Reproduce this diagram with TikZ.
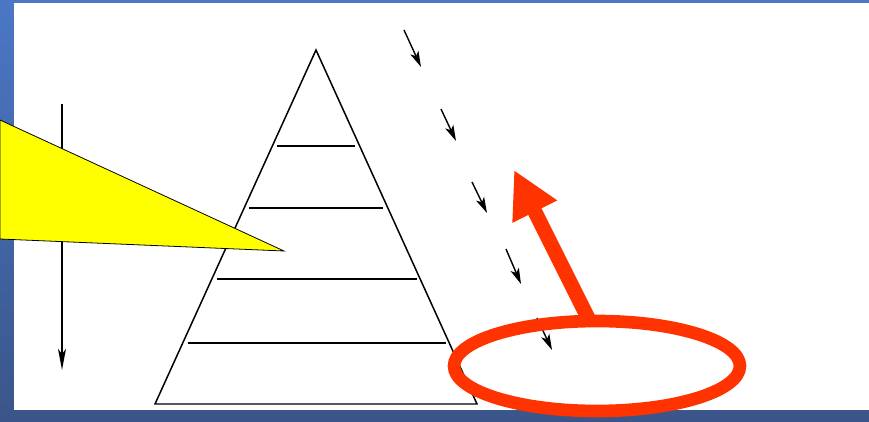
\documentclass[tikz,border=0pt]{standalone}
\usepackage{tikz}
\usetikzlibrary{arrows.meta}
\definecolor{FrameTop}{HTML}{4B77C6}
\definecolor{FrameBot}{HTML}{3A5589}
\definecolor{Flame}{HTML}{FF3300}
\definecolor{Beam}{HTML}{FFFF00}

\begin{document}
\begin{tikzpicture}[x=0.02cm,y=-0.02cm,>=Stealth,
    rung/.style={line width=1.15pt},
    fall/.style={-{Stealth[length=9pt,width=5pt,inset=2.2pt]},line width=0.8pt},
    flame/.style={Flame,line width=7.2pt}]
    \useasboundingbox (0,0) rectangle (869,422);

    % frame
    \shade[top color=FrameTop,bottom color=FrameBot] (0,0) rectangle (869,422);
    \fill[white] (14,3) rectangle (869,410);

    % pyramid
    \coordinate (apex) at (316,50);
    \coordinate (baseL) at (155,404);
    \coordinate (baseR) at (477,404);
    \draw[line width=0.85pt] (apex) -- (baseL) -- (baseR) -- cycle;
    \foreach \y/\xa/\xb in {146/277/355,208/249/383,279/217/417,343/188/446} {
      \draw[rung] (\xa,\y) -- (\xb,\y);
    }

    % vertical arrow
    \coordinate (axisTop) at (62,104);
    \coordinate (axisBot) at (62,370);
    \draw[-{Stealth[length=12pt,width=4.5pt,inset=3pt]},line width=0.9pt] (axisTop) -- (axisBot);

    % yellow beam
    \coordinate (beamTop) at (0,120);
    \coordinate (beamTip) at (284,251);
    \coordinate (beamBot) at (0,239);
    \draw[fill=Beam,line width=0.45pt] (beamTop) -- (beamTip) -- (beamBot) -- cycle;

    % falling arrows
    \foreach \xa/\ya/\xb/\yb in {404/30/421/67,441/109/456/141,472/182/487/213,506/249/521/284,537/318/552/350} {
      \draw[fall] (\xa,\ya) -- (\xb,\yb);
    }

    % red ring and arrow
    \coordinate (ring) at (597,366);
    \draw[flame] (ring) ellipse [x radius=2.86cm,y radius=0.9cm];
    \coordinate (rim) at (590,322);
    \coordinate (aim) at (514,170);
    \draw[flame,line width=8.4pt,-{Triangle[length=26.5pt,width=26.5pt]}] (rim) -- (aim);
\end{tikzpicture}
\end{document}
